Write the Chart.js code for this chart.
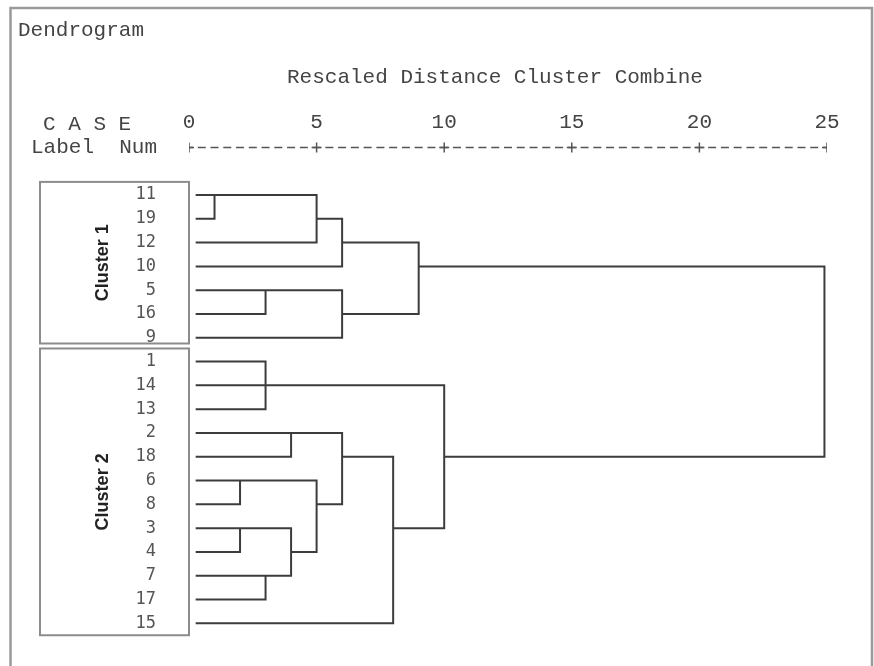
<!DOCTYPE html>
<html>
<head>
<meta charset="utf-8">
<title>Dendrogram</title>
<script src="https://cdn.jsdelivr.net/npm/chart.js@4.4.1/dist/chart.umd.min.js"></script>
<style>
    html, body { margin: 0; padding: 0; background: #fff; }
    #wrap { width: 874px; height: 666px; }
</style>
</head>
<body>
<div id="wrap"><canvas id="dendro"></canvas></div>
<script>
// cases in the order they are listed down the tree
const caseLabels = ['11', '19', '12', '10', '5', '16', '9', '1', '14', '13', '2', '18', '6', '8', '3', '4', '7', '17', '15'];

// merge steps: members (case labels or earlier merges M1, M2, ...) and the rescaled distance
const mergeMembers = [
    ['11', '19'], ['M1', '12'], ['M2', '10'], ['5', '16'], ['M4', '9'], ['M3', 'M5'],
    ['1', '14', '13'], ['2', '18'], ['6', '8'], ['3', '4'], ['7', '17'], ['M10', 'M11'],
    ['M9', 'M12'], ['M8', 'M13'], ['M14', '15'], ['M7', 'M15'], ['M6', 'M16']
];
const mergeDistance = [1, 5, 6, 3, 6, 9, 3, 4, 2, 2, 3, 4, 5, 6, 8, 10, 24.9];

const distanceTicks = [0, 5, 10, 15, 20, 25];

const clusterNames = ['Cluster 1', 'Cluster 2'];
const clusterFirst = ['11', '1'];
const clusterLast = ['9', '15'];

const leafStart = 0.3;   // leaf lines begin just right of 0
const axisRow = -2;      // the +----+ ruler sits two rows above the first case
const mono = 'Liberation Mono';

// build the elbow segments, SPSS style: a merged node carries on from the middle row
const node = {};
caseLabels.forEach((c, i) => { node[c] = { row: i, from: leafStart }; });
const segments = [];
const gap = { x: null, y: null };
mergeMembers.forEach((members, k) => {
    const d = mergeDistance[k];
    const rows = members.map(m => node[m].row);
    members.forEach(m => {
        segments.push({ x: node[m].from, y: node[m].row }, { x: d, y: node[m].row }, gap);
    });
    const top = Math.min(...rows), bottom = Math.max(...rows);
    segments.push({ x: d, y: top }, { x: d, y: bottom }, gap);
    node['M' + (k + 1)] = { row: Math.floor((top + bottom) / 2), from: d };
});

const notes = {
    id: 'notes',
    afterDraw(chart) {
        const { ctx, chartArea, scales: { x, y } } = chart;
        ctx.save();

        // outer window frame
        ctx.strokeStyle = '#9a9a9a';
        ctx.lineWidth = 2.5;
        ctx.beginPath();
        ctx.moveTo(10.5, 680);
        ctx.lineTo(10.5, 8);
        ctx.lineTo(872, 8);
        ctx.lineTo(872, 680);
        ctx.stroke();

        // header text
        ctx.fillStyle = '#444';
        ctx.font = '21px "' + mono + '"';
        ctx.textBaseline = 'middle';
        ctx.textAlign = 'left';
        ctx.fillText('Rescaled Distance Cluster Combine', 287, 77);
        ctx.fillText('C A S E', 43, 124);
        ctx.fillText('Label  Num', 31, y.getPixelForValue(axisRow));

        // cluster boxes
        ctx.strokeStyle = '#8c8c8c';
        ctx.lineWidth = 2;
        clusterNames.forEach((name, i) => {
            const top = y.getPixelForValue(caseLabels.indexOf(clusterFirst[i]) - 0.55);
            let bottom = y.getPixelForValue(caseLabels.indexOf(clusterLast[i]) + 0.5);
            if (i + 1 < clusterNames.length) {
                const nextTop = y.getPixelForValue(caseLabels.indexOf(clusterFirst[i + 1]) - 0.55);
                bottom = Math.min(bottom, nextTop - 5);
            }
            ctx.strokeRect(40, top, chartArea.left - 40, bottom - top);

            ctx.save();
            ctx.translate(103, (top + bottom) / 2);
            ctx.rotate(-Math.PI / 2);
            ctx.fillStyle = '#222';
            ctx.font = 'bold 18px "Liberation Sans"';
            ctx.textAlign = 'center';
            ctx.fillText(name, 0, 0);
            ctx.restore();
        });
        ctx.restore();
    }
};

const ctx = document.getElementById('dendro').getContext('2d');
const chart = new Chart(ctx, {
    type: 'scatter',
    data: {
        datasets: [
            {
                label: 'tree',
                data: segments,
                showLine: true,
                spanGaps: false,
                pointRadius: 0,
                borderColor: '#3c3c3c',
                borderWidth: 2,
                borderCapStyle: 'square'
            },
            {
                label: 'ruler',
                data: distanceTicks.map(v => ({ x: v, y: axisRow })),
                showLine: true,
                pointStyle: 'cross',
                pointRadius: 5,
                pointBorderWidth: 1.5,
                borderColor: '#555',
                borderWidth: 1.5,
                borderDash: [8, 4.76],
                borderDashOffset: 4
            }
        ]
    },
    options: {
        responsive: true,
        maintainAspectRatio: false,
        animation: false,
        events: [],
        layout: { padding: { top: 8, left: 18, right: 47, bottom: 11 } },
        plugins: {
            legend: { display: false },
            tooltip: { enabled: false },
            title: {
                display: true,
                text: 'Dendrogram',
                align: 'start',
                color: '#444',
                font: { family: mono, size: 21, weight: 'normal' },
                padding: { top: 10, bottom: 0 }
            }
        },
        scales: {
            x: {
                type: 'linear',
                position: 'top',
                min: 0,
                max: 25,
                afterBuildTicks: s => { s.ticks = distanceTicks.map(v => ({ value: v })); },
                afterFit: s => { s.height = 92.3; },
                grid: { display: false, drawTicks: false },
                border: { display: false },
                ticks: { padding: 0, color: '#444', font: { family: mono, size: 21 } }
            },
            y: {
                type: 'linear',
                reverse: true,
                min: -2.5,
                max: 19.33,
                afterBuildTicks: s => { s.ticks = caseLabels.map((_, i) => ({ value: i })); },
                afterFit: s => { s.width = 171; },
                // the gap between case numbers and the tree comes from an invisible tick length
                grid: { display: false, drawTicks: true, tickLength: 33 },
                border: { display: false },
                ticks: {
                    padding: 0,
                    autoSkip: false,
                    color: '#555',
                    font: { family: 'DejaVu Sans Mono', size: 17 },
                    callback: v => caseLabels[v]
                }
            }
        }
    },
    plugins: [notes]
});
</script>
</body>
</html>
